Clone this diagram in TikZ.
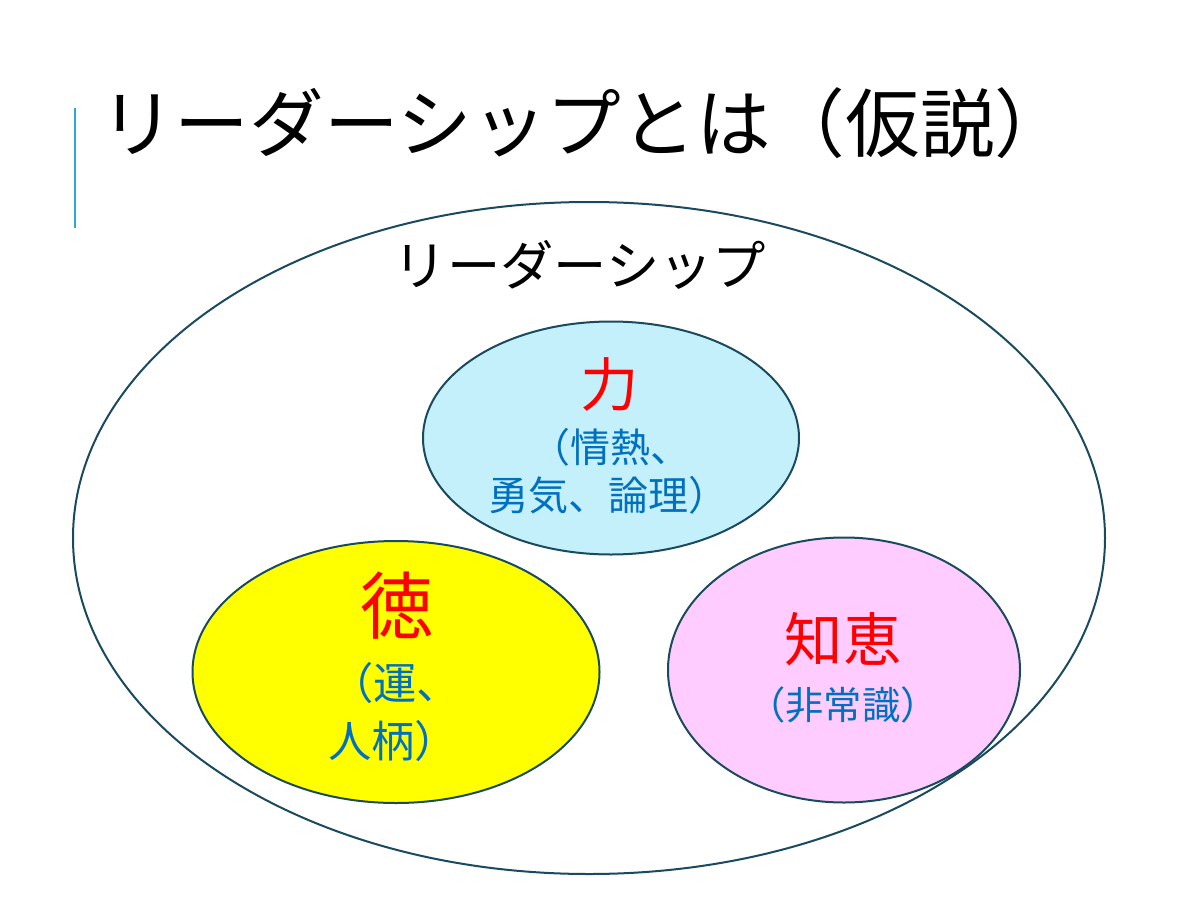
\documentclass[tikz,border=0pt]{standalone}
\usepackage{fontspec}
\setmainfont{Noto Sans CJK JP}
\usetikzlibrary{shapes.geometric}
\definecolor{accent}{RGB}{45,168,216}
\definecolor{edge}{RGB}{26,74,94}
\definecolor{cyanfill}{RGB}{196,240,251}
\definecolor{yel}{RGB}{255,255,0}
\definecolor{pinkfill}{RGB}{255,204,255}
\definecolor{redtxt}{RGB}{255,0,0}
\definecolor{bluetxt}{RGB}{0,112,192}
\tikzset{
  oval/.style={ellipse, draw=edge, line width=1.2pt, inner sep=0pt},
  head/.style={text=redtxt, inner sep=0pt},
  sub/.style={text=bluetxt, inner sep=0pt, align=center},
}
\newcommand{\fs}[1]{\fontsize{#1}{#1}\selectfont}
\begin{document}
\begin{tikzpicture}[x=0.6pt, y=-0.6pt]
\useasboundingbox (0,0) rectangle (1200,900);
\fill[white] (0,0) rectangle (1200,900);
% accent bar
\coordinate (barT) at (75,108);
\coordinate (barB) at (75,228);
\draw[accent, line width=1.4pt] (barT) -- (barB);
% title
\node[anchor=west, inner sep=0pt] (title) at (100,123) {\fs{44.8}リーダーシップとは（仮説）};
% big ellipse
\node[oval, minimum width=1032*0.6pt, minimum height=672*0.6pt] (big) at (589,538) {};
\node[inner sep=0pt] (lead) at (580,265) {\fs{32}リーダーシップ};
% power
\node[oval, fill=cyanfill, minimum width=376*0.6pt, minimum height=233*0.6pt] (pow) at (611,438) {};
\node[head] (powh) at (610,385) {\fs{35}力};
\node[sub] (pows1) at (610,447) {\fs{24}（情熱、};
\node[sub] (pows2) at (608,495) {\fs{24}勇気、論理）};
% virtue
\node[oval, fill=yel, minimum width=407*0.6pt, minimum height=262*0.6pt] (vir) at (396,672) {};
\node[head] (virh) at (397,606) {\fs{44}徳};
\node[sub] (virs1) at (395,683) {\fs{26}（運、};
\node[sub] (virs2) at (393,741) {\fs{26}人柄）};
% wisdom
\node[oval, fill=pinkfill, minimum width=352*0.6pt, minimum height=265*0.6pt] (wis) at (844,670) {};
\node[head] (wish) at (843,639) {\fs{35}知恵};
\node[sub] (wiss) at (843,705) {\fs{23}（非常識）};
\end{tikzpicture}
\end{document}
